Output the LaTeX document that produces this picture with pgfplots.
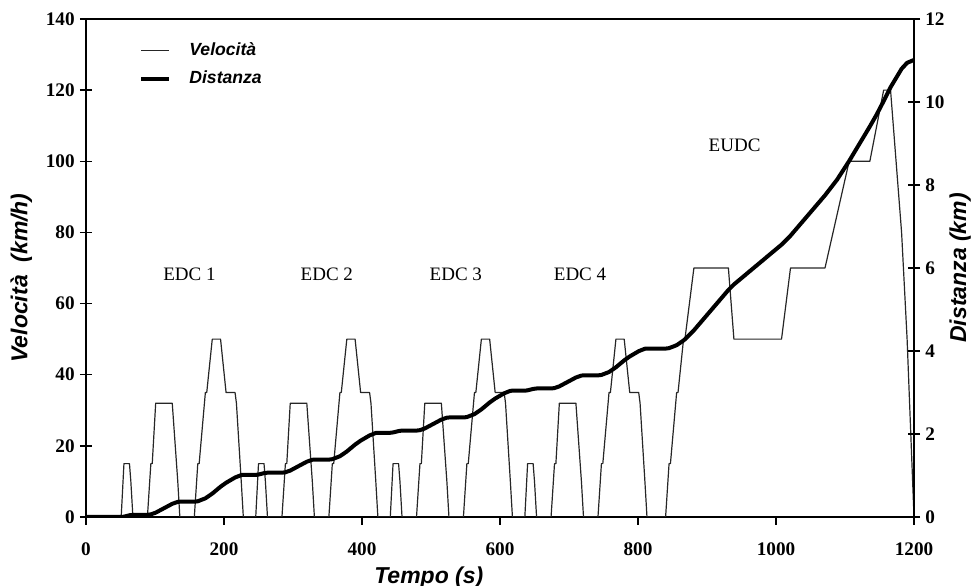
\documentclass[border=0pt]{standalone}
\usepackage{pgfplots}
\pgfplotsset{compat=1.18}
\usepackage{fontspec}
\setmainfont{Liberation Serif}
\newfontfamily\arialfont{Liberation Sans}
\usetikzlibrary{calc}

\begin{document}
\begin{tikzpicture}
\pgfplotsset{
  every axis/.append style={
    width=414pt, height=249pt, scale only axis,
    xmin=0, xmax=1200,
    /pgf/number format/assume math mode=true,
    /pgf/number format/1000 sep={},
    tick label style={font=\bfseries\fontsize{9.6}{11}\selectfont, text=black},
    axis line style={line width=0.75pt, black},
    major tick style={line width=0.75pt, black},
    label style={font=\arialfont\bfseries\itshape\fontsize{11.5}{13}\selectfont},
  },
}
\begin{axis}[
  ymin=0, ymax=140,
  xtick={0,200,...,1200}, ytick={0,20,...,140},
  xtick pos=left, ytick pos=left,
  xtick align=outside, ytick align=center,
  xtick style={/pgfplots/major tick length=4pt},
  ytick style={/pgfplots/major tick length=6pt},
  xticklabel style={yshift=-5pt},
  xlabel={Tempo (s)},
  xlabel style={at={(axis description cs:0.414,-0.1225)}, anchor=center},
  ylabel={Velocità\ \ (km/h)},
  ylabel style={at={(axis description cs:-0.078,0.48)}, anchor=center},
  legend style={at={(axis description cs:0.064,0.962)}, anchor=north west,
    draw=none, fill=none, inner sep=0pt, row sep=2.5pt,
    font=\arialfont\bfseries\itshape\fontsize{8.8}{10}\selectfont,
    nodes={inner sep=2pt},
    /tikz/every odd column/.append style={column sep=7pt}},
  legend cell align=left,
  legend image code/.code={\draw[#1] (0pt,0pt) -- (14pt,0pt);},
]
\addplot[black!85, line width=0.6pt, line join=round] coordinates {
(0,0)
(40,0)(51,0)(55,15)(63,15)(65,10)(68,0)(89,0)(94,15)(96,15)(101,32)(125,32)(133,10)(136,0)(157,0)(162,15)(164,15)(173,35)(175,35)(183,50)(195,50)(203,35)(216,35)(218,32)(225,10)(228,0)(235,0)
(246,0)(250,15)(258,15)(260,10)(263,0)(284,0)(289,15)(291,15)(296,32)(320,32)(328,10)(331,0)(352,0)(357,15)(359,15)(368,35)(370,35)(378,50)(390,50)(398,35)(411,35)(413,32)(420,10)(423,0)(430,0)
(441,0)(445,15)(453,15)(455,10)(458,0)(479,0)(484,15)(486,15)(491,32)(515,32)(523,10)(526,0)(547,0)(552,15)(554,15)(563,35)(565,35)(573,50)(585,50)(593,35)(606,35)(608,32)(615,10)(618,0)(625,0)
(636,0)(640,15)(648,15)(650,10)(653,0)(674,0)(679,15)(681,15)(686,32)(710,32)(718,10)(721,0)(742,0)(747,15)(749,15)(758,35)(760,35)(768,50)(780,50)(788,35)(801,35)(803,32)(810,10)(813,0)(820,0)
(840,0)(845,15)(847,15)(856,35)(858,35)(866,50)(868,50)(881,70)(931,70)(939,50)(1008,50)(1021,70)(1071,70)(1106,100)(1136,100)(1156,120)(1166,120)(1182,80)(1190,50)(1200,0)
};
\addlegendentry{Velocità}
\addlegendimage{black, line width=2pt}
\addlegendentry{Distanza}
\node[font=\fontsize{9.5}{11}\selectfont] at (axis cs:150,68.3) {EDC 1};
\node[font=\fontsize{9.5}{11}\selectfont] at (axis cs:349,68.3) {EDC 2};
\node[font=\fontsize{9.5}{11}\selectfont] at (axis cs:536,68.3) {EDC 3};
\node[font=\fontsize{9.5}{11}\selectfont] at (axis cs:716,68.3) {EDC 4};
\node[font=\fontsize{9.5}{11}\selectfont] at (axis cs:940,104.6) {EUDC};
\end{axis}
\begin{axis}[
  ymin=0, ymax=12, ytick={0,2,...,12},
  axis x line=none, axis y line*=right,
  ytick align=center,
  ytick style={/pgfplots/major tick length=6pt},
  ylabel={Distanza (km)},
  ylabel style={at={(axis description cs:1.0556,0.5)}, anchor=center},
]
\addplot[black, line width=2pt, line join=round] coordinates {
(0,0)(40,0)(51,0)(55,0.0083)(63,0.0417)(68,0.0528)(89,0.0528)(94,0.0632)(101,0.1042)(125,0.3175)(133,0.3642)(136,0.3683)(157,0.3683)(162,0.3788)(173,0.4496)(183,0.5635)(195,0.7301)(203,0.8246)(216,0.9510)(225,1.0104)(228,1.0146)(235,1.0146)
(246,1.0146)(250,1.0229)(258,1.0563)(263,1.0674)(284,1.0674)(289,1.0778)(296,1.1188)(320,1.3321)(328,1.3788)(331,1.3829)(352,1.3829)(357,1.3934)(368,1.4642)(378,1.5781)(390,1.7447)(398,1.8392)(411,1.9656)(420,2.0250)(423,2.0292)(430,2.0292)
(441,2.0292)(445,2.0375)(453,2.0709)(458,2.0820)(479,2.0820)(484,2.0924)(491,2.1334)(515,2.3467)(523,2.3934)(526,2.3975)(547,2.3975)(552,2.4080)(563,2.4788)(573,2.5927)(585,2.7593)(593,2.8538)(606,2.9802)(615,3.0396)(618,3.0438)(625,3.0438)
(636,3.0438)(640,3.0521)(648,3.0855)(653,3.0966)(674,3.0966)(679,3.1070)(686,3.1480)(710,3.3613)(718,3.4080)(721,3.4121)(742,3.4121)(747,3.4226)(758,3.4934)(768,3.6073)(780,3.7739)(788,3.8684)(801,3.9948)(810,4.0542)(813,4.0584)(820,4.0584)
(840,4.0584)(845,4.0688)(856,4.1397)(866,4.2535)(868,4.2813)(881,4.4980)(931,5.4702)(939,5.6035)(1008,6.5619)(1021,6.7785)(1071,7.7508)(1088.5,8.1275)(1106,8.5772)(1136,9.4105)(1146,9.7022)(1156,10.0216)(1166,10.3549)(1182,10.7994)(1190,10.9438)(1200,11.0133)
};
\end{axis}
\pgfresetboundingbox
\path[use as bounding box] ($(current axis.south west)+(-43pt,-34.5pt)$) rectangle ($(current axis.north east)+(32pt,9.5pt)$);
\end{tikzpicture}
\end{document}
